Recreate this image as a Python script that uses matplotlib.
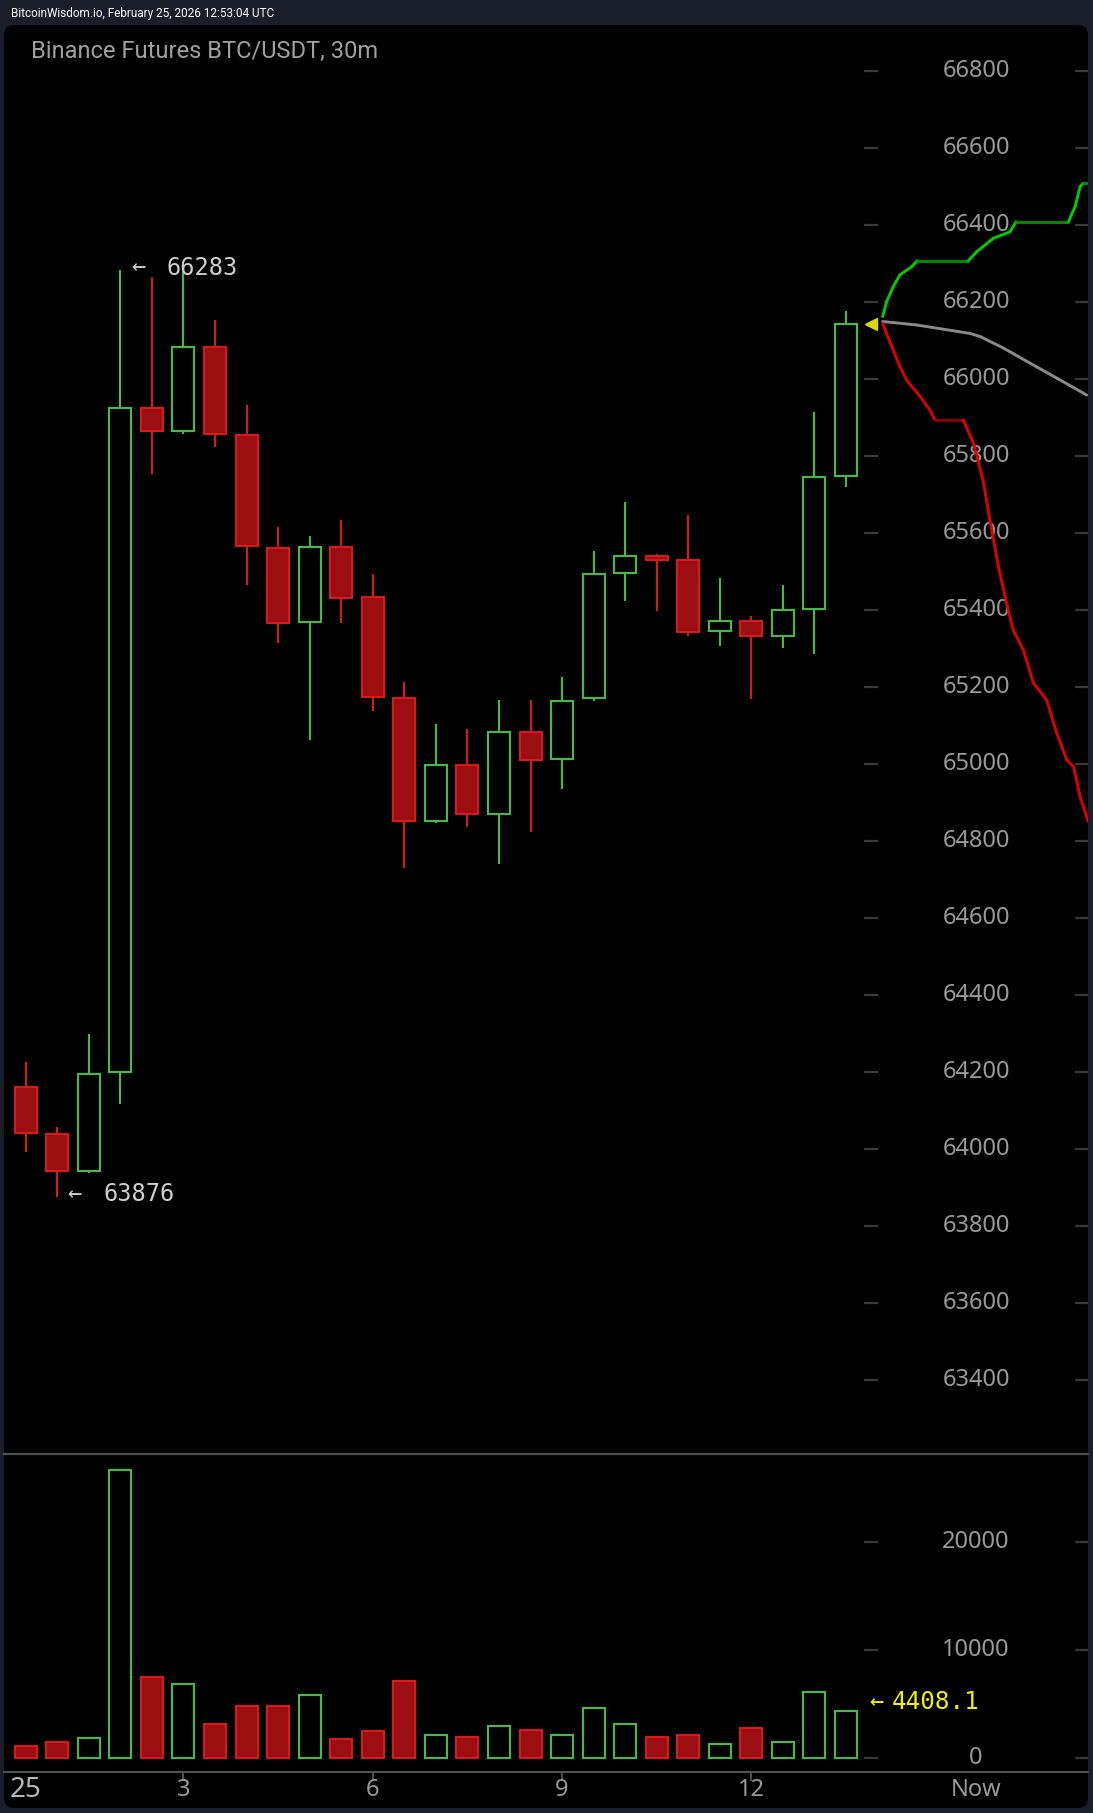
import matplotlib
matplotlib.use('Agg')
import matplotlib.pyplot as plt
from matplotlib.patches import Rectangle, FancyBboxPatch
from matplotlib.collections import LineCollection
import numpy as np

# --- data (30m candles, Binance Futures BTC/USDT) ---
opens = [64161, 64039, 63943, 64201, 65925, 65866, 66084, 65856, 65563, 65369,
         65564, 65435, 65173, 64854, 64997, 64871, 65085, 65013, 65171, 65497,
         65542, 65530, 65345, 65371, 65333, 65403, 65750]
highs = [64227, 64058, 64299, 66283, 66266, 66280, 66155, 65933, 65617, 65594,
         65635, 65494, 65214, 65104, 65092, 65167, 65167, 65226, 65554, 65681,
         65547, 65647, 65483, 65384, 65466, 65916, 66178]
lows = [63994, 63876, 63940, 64118, 65753, 65857, 65824, 65467, 65315, 65063,
        65368, 65139, 64732, 64847, 64836, 64741, 64824, 64935, 65165, 65425,
        65397, 65332, 65308, 65169, 65303, 65286, 65719]
closes = [64042, 63943, 64196, 65925, 65866, 66084, 65859, 65567, 65368, 65564,
          65431, 65176, 64854, 64997, 64871, 65085, 65011, 65165, 65494, 65540,
          65531, 65344, 65371, 65333, 65401, 65745, 66143]
volumes = [1140, 1540, 1910, 26700, 7550, 6900, 3200, 4840, 4840, 5870,
           1740, 2570, 7180, 2160, 1940, 2990, 2590, 2160, 4650, 3200,
           1940, 2160, 1320, 2780, 1510, 6100, 4408.1]

# forecast bands (x in candle units)
up_x = [27.16, 27.29, 27.50, 27.71, 28.08, 28.26, 29.88, 30.14, 30.67, 31.20,
        31.39, 33.05, 33.26, 33.42, 33.52, 33.68]
up_y = [66163, 66202, 66241, 66271, 66292, 66308, 66308, 66331, 66366, 66383,
        66409, 66409, 66448, 66500, 66509, 66509]
mid_x = [27.16, 28.24, 29.93, 30.25, 30.99, 31.83, 32.68, 33.63]
mid_y = [66150, 66141, 66119, 66111, 66081, 66042, 66003, 65959]
dn_x = [27.16, 27.45, 27.71, 27.92, 28.35, 28.66, 28.82, 29.72, 30.04, 30.34,
        30.56, 30.82, 31.09, 31.30, 31.62, 31.94, 32.36, 32.68, 33.00, 33.21,
        33.42, 33.68]
dn_y = [66145, 66085, 66033, 65998, 65955, 65920, 65894, 65894, 65834, 65739,
        65635, 65518, 65418, 65349, 65297, 65211, 65167, 65081, 65011, 64994,
        64916, 64851]

price_ticks = list(range(63400, 66801, 200))
vol_ticks = [0, 10000, 20000]
hour_pos = [5, 11, 17, 23]
hour_labels = ['3', '6', '9', '12']

GREEN = '#45bb45'
RED = '#d41a1a'
RED_FILL = '#9b0f12'
LABEL = '#9a9a9a'
DASH = '#3a3a3a'

W, H = 1093, 1813
fig = plt.figure(figsize=(W / 100, H / 100), dpi=100, facecolor='#1a1e29')


def fx(px):
    return px / W


def fy(py):
    return 1 - py / H


panel = FancyBboxPatch((fx(4), fy(1808)), fx(1088) - fx(4), fy(25) - fy(1808),
                       boxstyle='round,pad=0,rounding_size=%f' % (10 / W),
                       mutation_aspect=W / H, transform=fig.transFigure,
                       facecolor='black', edgecolor='none', zorder=0)
fig.add_artist(panel)

fig.text(fx(10.7), fy(14), 'BitcoinWisdom.io, February 25, 2026 12:53:04 UTC',
         color='white', fontsize=8.5, family='Roboto', va='center', ha='left')

xlim = (-0.688, 33.67)
ax = fig.add_axes([fx(4), fy(1454), fx(1088) - fx(4), fy(25) - fy(1454)])
ax.set_xlim(*xlim)
ax.set_ylim(63209, 66920)
ax.set_axis_off()

axv = fig.add_axes([fx(4), fy(1772), fx(1088) - fx(4), fy(1454) - fy(1772)])
axv.set_xlim(*xlim)
axv.set_ylim(-1267, 28148)
axv.set_axis_off()

ax.text((30.7 - 4) / 1084, 1 - (51.7 - 25) / 1429, 'Binance Futures BTC/USDT, 30m',
        transform=ax.transAxes, color='#a0a0a0', fontsize=17, family='Roboto',
        va='center', ha='left')

bw = 22 / 31.55
lw = 1.5
for i, (o, h, l, c) in enumerate(zip(opens, highs, lows, closes)):
    up = c >= o
    col = GREEN if up else RED
    top, bot = max(o, c), min(o, c)
    ax.vlines(i, top, h, color=col, lw=lw, zorder=2)
    ax.vlines(i, l, bot, color=col, lw=lw, zorder=2)
    ax.add_patch(Rectangle((i - bw / 2, bot), bw, max(top - bot, 1),
                           facecolor='none' if up else RED_FILL,
                           edgecolor=col, lw=lw, zorder=3))
    v = volumes[i]
    axv.add_patch(Rectangle((i - bw / 2, 0), bw, v,
                            facecolor='none' if up else RED_FILL,
                            edgecolor=col, lw=lw, zorder=3))

# axis dashes and labels
tr = ax.get_yaxis_transform()
for p in price_ticks:
    ax.plot([0.794, 0.805], [p, p], color=DASH, lw=1.6, transform=tr, zorder=1)
    ax.plot([0.989, 1.0], [p, p], color=DASH, lw=1.6, transform=tr, zorder=1)
    ax.text(0.8967, p, str(p), transform=tr, color=LABEL, fontsize=17,
            family='Noto Sans', ha='center', va='center', zorder=1)

trv = axv.get_yaxis_transform()
for v in vol_ticks:
    axv.plot([0.794, 0.805], [v, v], color=DASH, lw=1.6, transform=trv, zorder=1)
    axv.plot([0.989, 1.0], [v, v], color=DASH, lw=1.6, transform=trv, zorder=1)
    axv.text(0.8967, v, str(v), transform=trv, color=LABEL, fontsize=17,
             family='Noto Sans', ha='center', va='center', zorder=1)

# high / low markers
ihi = int(np.argmax(highs))
ilo = int(np.argmin(lows))
for idx, val in ((ihi, highs[ihi]), (ilo, lows[ilo])):
    ax.annotate('←', (idx, val), xytext=(7.5, 2), textcoords='offset points',
                color='#cfcfcf', fontsize=17, family='DejaVu Sans Mono',
                ha='left', va='center')
    ax.annotate('%d' % val, (idx, val), xytext=(33.5, 2), textcoords='offset points',
                color='#cfcfcf', fontsize=17, family='DejaVu Sans Mono',
                ha='left', va='center')

# last volume
axv.annotate('←', (len(volumes) - 1, volumes[-1]), xytext=(16.5, 6),
             textcoords='offset points', color='#f2f200', fontsize=17,
             family='DejaVu Sans Mono', ha='left', va='center', annotation_clip=False)
axv.annotate('%.1f' % volumes[-1], (len(volumes) - 1, volumes[-1]), xytext=(33, 6),
             textcoords='offset points', color='#f2f200', fontsize=17.5,
             family='DejaVu Sans Mono', ha='left', va='center', annotation_clip=False)

# current price marker
ax.plot([26.79], [closes[-1]], marker='<', color='#d8d800', markersize=9,
        linestyle='none', zorder=4)


def band(xs, ys, bright, dark):
    pts = np.column_stack([xs, ys])
    segs = np.stack([pts[:-1], pts[1:]], axis=1)
    cols = [dark if abs(b[1] - a[1]) < 1 else bright for a, b in segs]
    ax.add_collection(LineCollection(segs, colors=cols, linewidths=2.1, zorder=5,
                                     capstyle='round'))


band(up_x, up_y, '#00cc00', '#008a00')
band(mid_x, mid_y, '#8a8a8a', '#8a8a8a')
band(dn_x, dn_y, '#dd0000', '#8a0000')

# dividers and time axis
axv.plot([0, 1], [1, 1], color='#505050', lw=1.6, transform=axv.transAxes, clip_on=False)
axv.plot([0, 1], [0, 0], color='#505050', lw=1.6, transform=axv.transAxes, clip_on=False)
trx = axv.get_xaxis_transform()
for xp, lab in zip(hour_pos, hour_labels):
    axv.plot([xp, xp], [0, -8 / 318], color='#505050', lw=1.4, transform=trx, clip_on=False)
    axv.text(xp, -18 / 318, lab, transform=trx, color=LABEL, fontsize=17,
             family='Noto Sans', ha='center', va='center')
axv.text(0, -18 / 318, '25', transform=trx, color='#b8b8b8', fontsize=20,
         family='Noto Sans', fontweight='bold', ha='center', va='center')
axv.text(0.8967, -18 / 318, 'Now', transform=axv.transAxes, color=LABEL, fontsize=17,
         family='Noto Sans', ha='center', va='center')

fig.savefig('out.png', dpi=100, facecolor=fig.get_facecolor())
